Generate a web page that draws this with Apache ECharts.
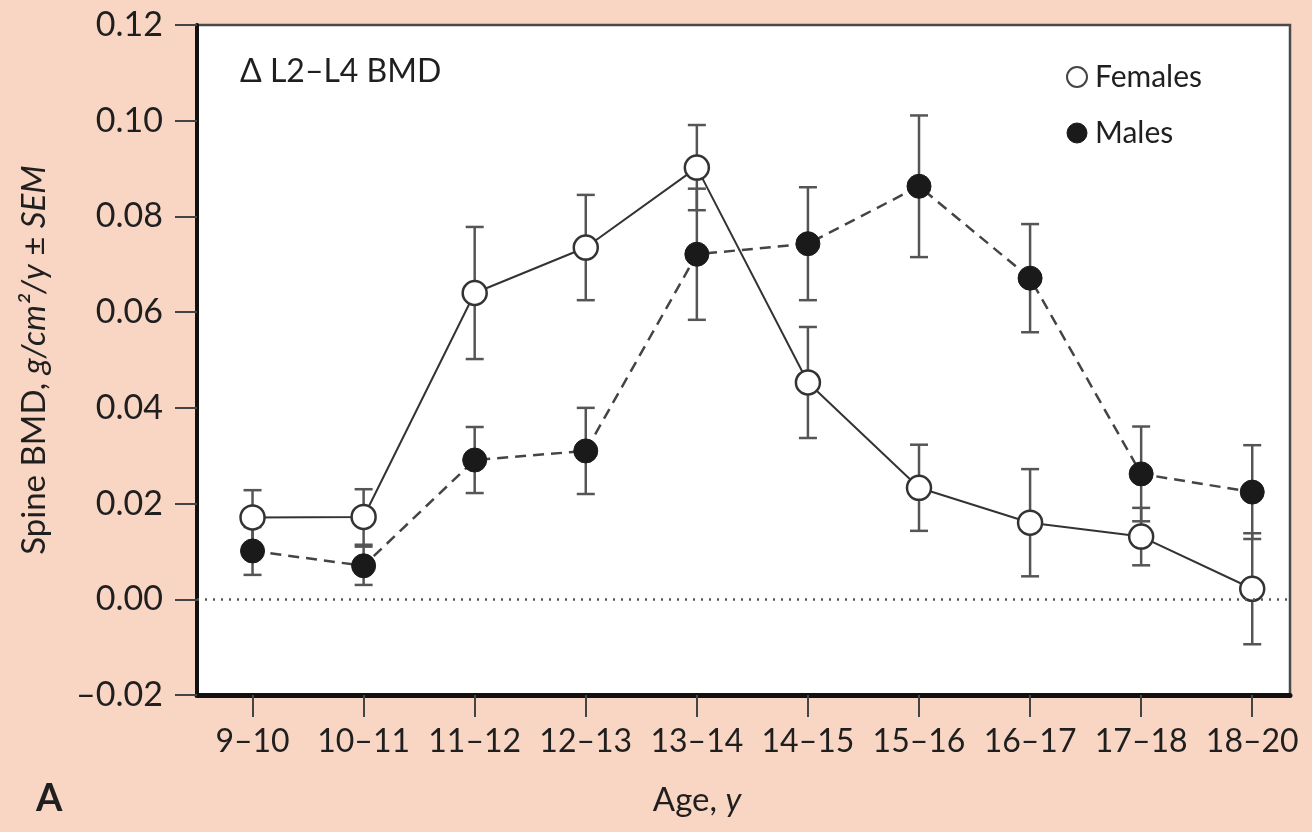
<!DOCTYPE html>
<html>
<head>
<meta charset="utf-8">
<script src="https://cdn.jsdelivr.net/npm/echarts@6/dist/echarts.min.js"></script>
<style>
html,body{margin:0;padding:0;background:#f9d5c3;}
#chart{width:1312px;height:832px;}
</style>
</head>
<body>
<div id="chart"></div>
<script>
const categories = ['9–10','10–11','11–12','12–13','13–14','14–15','15–16','16–17','17–18','18–20'];
const femaleValues = [0.0171, 0.0172, 0.0640, 0.0735, 0.0902, 0.0453, 0.0233, 0.0160, 0.0131, 0.0022];
const femaleSem    = [0.0057, 0.0058, 0.0138, 0.0110, 0.0089, 0.0116, 0.0090, 0.0112, 0.0060, 0.0116];
const maleValues   = [0.0101, 0.0070, 0.0291, 0.0310, 0.0721, 0.0743, 0.0863, 0.0671, 0.0262, 0.0224];
const maleSem      = [0.0050, 0.0040, 0.0069, 0.0090, 0.0137, 0.0118, 0.0148, 0.0113, 0.0099, 0.0098];
const yTicks = [-0.02, 0, 0.02, 0.04, 0.06, 0.08, 0.10, 0.12];

const FONT = 'Lato';
const TXT = '#1f1f1f';
const idx = categories.map((c, i) => i);

function errData(vals, sems){ return vals.map((v, i) => [i, v, sems[i]]); }
function lineData(vals){ return vals.map((v, i) => [i, v]); }

function errRender(params, api){
  const x = api.value(0), y = api.value(1), e = api.value(2);
  const t = api.coord([x, y + e]);
  const b = api.coord([x, y - e]);
  const w = 9;
  const st = {stroke:'#555', lineWidth:2.5};
  return {type:'group', children:[
    {type:'line', shape:{x1:t[0], y1:t[1], x2:b[0], y2:b[1]}, style:st},
    {type:'line', shape:{x1:t[0]-w, y1:t[1], x2:t[0]+w, y2:t[1]}, style:st},
    {type:'line', shape:{x1:b[0]-w, y1:b[1], x2:b[0]+w, y2:b[1]}, style:st}
  ]};
}

const chart = echarts.init(document.getElementById('chart'));
chart.setOption({
  backgroundColor:'#f9d5c3',
  animation:false,
  grid:{left:197, right:22, top:25, bottom:137, show:true, backgroundColor:'#ffffff', borderColor:'#4a4a4a', borderWidth:2.5},
  legend:{
    orient:'vertical', left:1061, top:57, itemGap:26, itemWidth:20, itemHeight:20,
    textStyle:{fontFamily:FONT, fontSize:30, color:TXT, padding:[0,0,0,3]},
    data:[
      {name:'Females', icon:'circle', itemStyle:{color:'#fff', borderColor:'#444', borderWidth:2}},
      {name:'Males', icon:'circle', itemStyle:{color:'#1a1a1a', borderColor:'#1a1a1a', borderWidth:1}}
    ]
  },
  xAxis:{
    type:'value', min:-0.5, max:9.34,
    axisLine:{show:true, onZero:false, lineStyle:{color:'#111', width:5}},
    axisTick:{show:true, length:22, customValues:idx, lineStyle:{color:'#444', width:2}},
    axisLabel:{customValues:idx, margin:31, fontFamily:FONT, fontSize:32, color:TXT,
      formatter:(v) => categories[Math.round(v)]},
    splitLine:{show:false}
  },
  yAxis:{
    type:'value', min:-0.02, max:0.12, interval:0.02,
    axisLine:{show:true, onZero:false, lineStyle:{color:'#111', width:4}},
    axisTick:{show:true, length:22, lineStyle:{color:'#444', width:2}},
    axisLabel:{margin:34, fontFamily:FONT, fontSize:34, color:TXT,
      formatter:(v) => (v < 0 ? '–' : '') + Math.abs(v).toFixed(2)},
    splitLine:{show:false},
    name:'{n|Spine BMD, }{i|g/cm²/y}{n| ± }{i|SEM}',
    nameLocation:'middle', nameGap:146, nameRotate:90,
    nameTextStyle:{rich:{
      n:{fontFamily:FONT, fontSize:33, color:TXT},
      i:{fontFamily:FONT, fontSize:33, color:TXT, fontStyle:'italic'}
    }}
  },
  graphic:[
    {type:'text', left:240, top:56, style:{text:'Δ L2–L4 BMD', font:'32px Lato', fill:TXT}},
    {type:'text', left:36, top:780, style:{text:'A', font:'bold 38px Lato', fill:TXT}},
    {type:'text', x:697, y:800, style:{
      text:'{n|Age, }{i|y}', align:'center', verticalAlign:'middle',
      rich:{n:{fontFamily:FONT, fontSize:33, fill:TXT}, i:{fontFamily:FONT, fontSize:33, fontStyle:'italic', fill:TXT}}
    }}
  ],
  series:[
    {type:'custom', name:'femErr', renderItem:errRender, data:errData(femaleValues, femaleSem), z:2, silent:true},
    {type:'custom', name:'maleErr', renderItem:errRender, data:errData(maleValues, maleSem), z:2, silent:true},
    {type:'line', name:'Males', data:lineData(maleValues), z:3,
      symbol:'circle', symbolSize:24,
      itemStyle:{color:'#1a1a1a', borderColor:'#1a1a1a', borderWidth:1},
      lineStyle:{color:'#444', width:2.5, type:[11,7]}},
    {type:'line', name:'Females', data:lineData(femaleValues), z:4,
      symbol:'circle', symbolSize:24,
      itemStyle:{color:'#fff', borderColor:'#333', borderWidth:2.5},
      lineStyle:{color:'#333', width:2},
      markLine:{silent:true, symbol:'none', label:{show:false},
        lineStyle:{color:'#555', width:2.5, type:[2,6]},
        data:[{yAxis:0}]}}
  ]
});
</script>
</body>
</html>
